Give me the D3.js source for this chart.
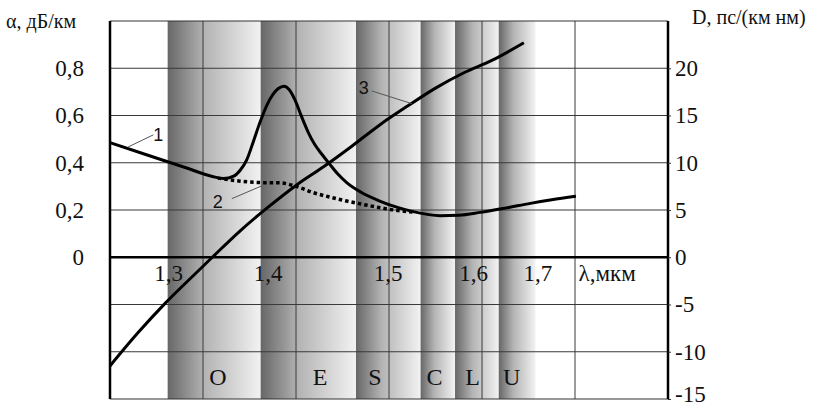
<!DOCTYPE html>
<html>
<head>
<meta charset="utf-8">
<script src="https://cdn.jsdelivr.net/npm/d3@7"></script>
<style>
  html, body { margin: 0; padding: 0; background: #fff; }
  svg { display: block; }
  .serif { font-family: "Liberation Serif", "DejaVu Serif", serif; fill: #111; }
  .sans { font-family: "Liberation Sans", Arial, sans-serif; fill: #111; }
</style>
</head>
<body>
<svg id="chart" width="817" height="408"></svg>
<script>
// ---------------- data ----------------
// curve 1: attenuation of standard fibre (with water peak), dB/km
const lambda1 = [1.20, 1.24, 1.28, 1.31, 1.322, 1.333, 1.340, 1.347, 1.354, 1.361, 1.368, 1.375, 1.381, 1.387, 1.393, 1.399, 1.406, 1.413, 1.420, 1.428, 1.436, 1.445, 1.4545, 1.47, 1.49, 1.51, 1.526, 1.555, 1.575, 1.598, 1.625, 1.652, 1.675, 1.701];
const alpha1  = [0.485, 0.433, 0.381, 0.342, 0.333, 0.343, 0.368, 0.412, 0.488, 0.568, 0.638, 0.688, 0.714, 0.724, 0.708, 0.665, 0.595, 0.530, 0.478, 0.435, 0.395, 0.352, 0.316, 0.275, 0.238, 0.210, 0.193, 0.176, 0.178, 0.190, 0.208, 0.228, 0.243, 0.258];
// curve 2: attenuation of low-water-peak fibre (dotted)
const lambda2 = [1.316, 1.34, 1.362, 1.383, 1.40, 1.419, 1.437, 1.4545, 1.478, 1.501, 1.526];
const alpha2  = [0.335, 0.322, 0.316, 0.315, 0.300, 0.273, 0.254, 0.238, 0.219, 0.2025, 0.191];
// curve 3: chromatic dispersion, ps/(km nm)
const lambda3 = [1.20, 1.23, 1.26, 1.29, 1.31, 1.34, 1.37, 1.40, 1.43, 1.46, 1.49, 1.52, 1.55, 1.58, 1.61, 1.645];
const disp3   = [-11.5, -8.0, -4.8, -1.9, 0, 2.8, 5.3, 7.6, 9.6, 11.75, 14.0, 16.0, 17.9, 19.5, 20.8, 22.7];

// spectral bands
const bandNames   = ["O", "E", "S", "C", "L", "U"];
const bandStart   = [1.262, 1.362, 1.4645, 1.534, 1.571, 1.618];
const bandEnd     = [1.362, 1.4645, 1.534, 1.571, 1.618, 1.6575];
const bandLabelAt = [1.316, 1.426, 1.485, 1.549, 1.590, 1.632];

// axes
const lambdaTicks      = [1.3, 1.4, 1.5, 1.6, 1.7];
const lambdaTickLabels = ["1,3", "1,4", "1,5", "1,6", "1,7"];
const lambdaLabelAt    = [1.263, 1.370, 1.499, 1.591, 1.660];
const alphaTicks       = [0, 0.2, 0.4, 0.6, 0.8];
const alphaTickLabels  = ["0", "0,2", "0,4", "0,6", "0,8"];
const dispTicks        = [-15, -10, -5, 0, 5, 10, 15, 20];
const dispTickLabels   = ["-15", "-10", "-5", "0", "5", "10", "15", "20"];

// curve labels: [label, axis, [λ, value] near label, [λ, value] on curve]
const curveLabels = [
  { text: "1", axis: "a", from: [1.2466, 0.518], to: [1.2196, 0.467] },
  { text: "2", axis: "a", from: [1.331, 0.248],  to: [1.3631, 0.302] },
  { text: "3", axis: "d", from: [1.4814, 17.6],  to: [1.5244, 16.26] }
];

// ---------------- drawing ----------------
(function () {
const svg = d3.select("#chart");
const pL = 110, pR = 668, pT = 21, pB = 399;

const x  = d3.scaleLinear().domain([1.2, 1.8]).range([pL, pR]);
const yA = d3.scaleLinear().domain([-0.6, 1.0]).range([pB, pT]);
const yD = d3.scaleLinear().domain([-15, 25]).range([pB, pT]);

// gradient for bands
const defs = svg.append("defs");
const grad = defs.append("linearGradient").attr("id", "bandGrad")
  .attr("x1", "0%").attr("x2", "100%").attr("y1", "0%").attr("y2", "0%");
grad.append("stop").attr("offset", "0%").attr("stop-color", "#676767");
grad.append("stop").attr("offset", "40%").attr("stop-color", "#b4b4b4");
grad.append("stop").attr("offset", "100%").attr("stop-color", "#f2f2f2");

// bands
svg.append("g").selectAll("rect").data(bandNames).join("rect")
  .attr("x", (d, i) => x(bandStart[i]))
  .attr("width", (d, i) => x(bandEnd[i]) - x(bandStart[i]))
  .attr("y", pT).attr("height", pB - pT)
  .attr("fill", "url(#bandGrad)");

// horizontal grid lines
const gridVals = dispTicks.filter(v => v !== 0 && v !== -15);
svg.append("g").selectAll("line").data(gridVals).join("line")
  .attr("x1", pL).attr("x2", pR)
  .attr("y1", d => yD(d)).attr("y2", d => yD(d))
  .attr("stroke", "#3a3a3a").attr("stroke-width", 1);

// vertical grid lines
svg.append("g").selectAll("line").data(lambdaTicks).join("line")
  .attr("x1", d => x(d)).attr("x2", d => x(d))
  .attr("y1", pT).attr("y2", pB)
  .attr("stroke", "#3a3a3a").attr("stroke-width", 1);

// frame: top & bottom thin, left thick
svg.append("line").attr("x1", pL).attr("x2", pR).attr("y1", pT).attr("y2", pT)
  .attr("stroke", "#333").attr("stroke-width", 1);
svg.append("line").attr("x1", pL).attr("x2", pR).attr("y1", pB).attr("y2", pB)
  .attr("stroke", "#333").attr("stroke-width", 1);
svg.append("line").attr("x1", pL).attr("x2", pL).attr("y1", pT).attr("y2", pB)
  .attr("stroke", "#000").attr("stroke-width", 2.5);

// x axis (zero line)
svg.append("line").attr("x1", pL).attr("x2", pR).attr("y1", yD(0)).attr("y2", yD(0))
  .attr("stroke", "#000").attr("stroke-width", 2.5);

// right axis
const rAxis = d3.axisRight(yD).tickValues(dispTicks)
  .tickFormat((d, i) => dispTickLabels[i]).tickSize(3).tickSizeOuter(0).tickPadding(4);
const gR = svg.append("g").attr("transform", `translate(${pR},0)`).call(rAxis);
gR.select(".domain").attr("stroke", "#000").attr("stroke-width", 2.5)
  .attr("d", `M0,${pT}V${pB}`);
gR.selectAll(".tick line").attr("stroke", "#333");
gR.selectAll(".tick text").attr("class", "serif").attr("font-size", 23)
  .attr("dy", d => d === dispTicks[0] ? "0.12em" : "0.32em");

// left axis labels
const lAxis = d3.axisLeft(yA).tickValues(alphaTicks)
  .tickFormat((d, i) => alphaTickLabels[i]).tickSize(0).tickSizeOuter(0).tickPadding(26);
const gL = svg.append("g").attr("transform", `translate(${pL},0)`).call(lAxis);
gL.select(".domain").remove();
gL.selectAll(".tick text").attr("class", "serif").attr("font-size", 23);

// x tick labels
svg.append("g").selectAll("text").data(lambdaTickLabels).join("text")
  .attr("class", "serif").attr("font-size", 23)
  .attr("x", (d, i) => x(lambdaLabelAt[i])).attr("y", yD(0) + 24)
  .attr("text-anchor", "middle").text(d => d);
svg.append("text").attr("class", "serif").attr("font-size", 23)
  .attr("x", x(1.7) + 3.5).attr("y", yD(0) + 24).text("λ,мкм");

// band letters
svg.append("g").selectAll("text").data(bandNames).join("text")
  .attr("class", "serif").attr("font-size", 24)
  .attr("x", (d, i) => x(bandLabelAt[i])).attr("y", pB - 14)
  .attr("text-anchor", "middle").text(d => d);

// axis titles
svg.append("text").attr("class", "serif").attr("font-size", 20)
  .attr("x", 6).attr("y", 28).text("α, дБ/км");
svg.append("text").attr("class", "serif").attr("font-size", 20)
  .attr("x", 692).attr("y", 24).text("D, пс/(км нм)");

// curves
const lineA = d3.line().x(d => x(d[0])).y(d => yA(d[1])).curve(d3.curveMonotoneX);
const lineD = d3.line().x(d => x(d[0])).y(d => yD(d[1])).curve(d3.curveMonotoneX);

svg.append("path").datum(lambda2.map((l, i) => [l, alpha2[i]]))
  .attr("d", lineA).attr("fill", "none").attr("stroke", "#000")
  .attr("stroke-width", 3.5).attr("stroke-dasharray", "3.5,3");
svg.append("path").datum(lambda1.map((l, i) => [l, alpha1[i]]))
  .attr("d", lineA).attr("fill", "none").attr("stroke", "#000")
  .attr("stroke-width", 3).attr("stroke-linejoin", "round");
svg.append("path").datum(lambda3.map((l, i) => [l, disp3[i]]))
  .attr("d", lineD).attr("fill", "none").attr("stroke", "#000")
  .attr("stroke-width", 3).attr("stroke-linejoin", "round");

// curve labels with leader lines
curveLabels.forEach(c => {
  const ys = c.axis === "a" ? yA : yD;
  const fx = x(c.from[0]), fy = ys(c.from[1]);
  svg.append("line").attr("x1", fx).attr("y1", fy)
    .attr("x2", x(c.to[0])).attr("y2", ys(c.to[1]))
    .attr("stroke", "#555").attr("stroke-width", 1);
  const t = svg.append("text").attr("class", "sans").attr("font-size", 18).text(c.text);
  if (c.text === "1") t.attr("x", fx).attr("y", fy + 6).attr("text-anchor", "start");
  else if (c.text === "2") t.attr("x", fx - 9).attr("y", fy + 9.5).attr("text-anchor", "end");
  else t.attr("x", fx - 3).attr("y", fy + 3).attr("text-anchor", "end");
});
})();
</script>
</body>
</html>
